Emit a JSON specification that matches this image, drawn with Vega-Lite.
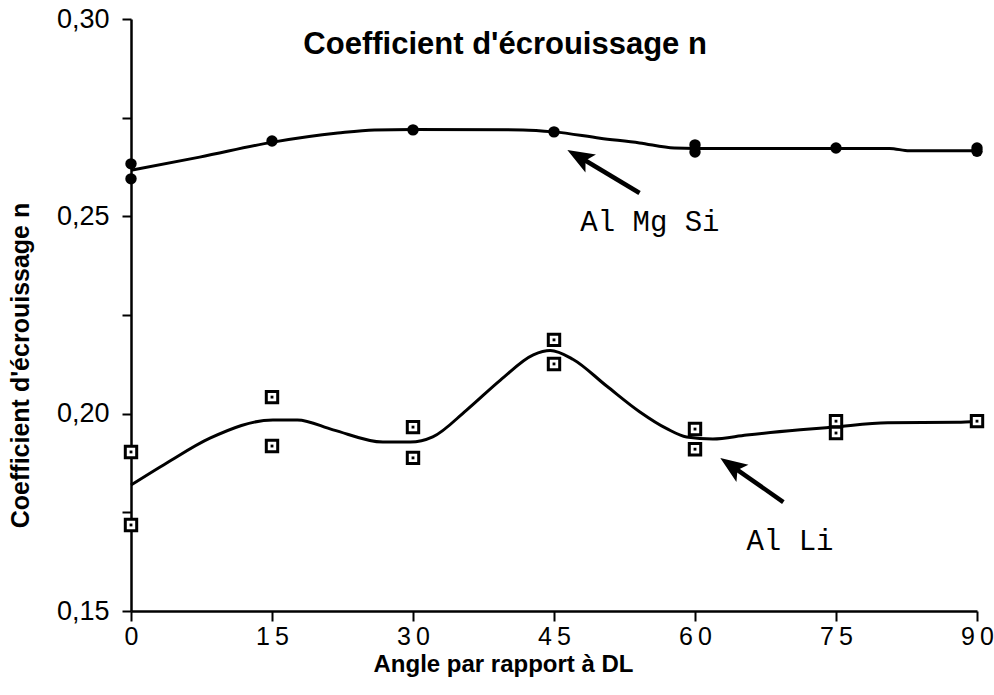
{
  "$schema": "https://vega.github.io/schema/vega-lite/v6.json",
  "width": 846,
  "height": 592,
  "autosize": "none",
  "padding": {"left": 131, "top": 19, "right": 17, "bottom": 84},
  "background": "white",
  "config": {"view": {"stroke": null}, "font": "Liberation Sans"},
  "datasets": {
    "curveMgSi": [
      {"angle": 0, "n": 0.2617}, {"angle": 7.3, "n": 0.2650}, {"angle": 15.1, "n": 0.2688},
      {"angle": 22, "n": 0.2711}, {"angle": 25.9, "n": 0.2719}, {"angle": 30, "n": 0.2720},
      {"angle": 41.7, "n": 0.2719}, {"angle": 45, "n": 0.2714}, {"angle": 49.9, "n": 0.2698},
      {"angle": 54.1, "n": 0.2686}, {"angle": 57.8, "n": 0.2673}, {"angle": 60, "n": 0.2672},
      {"angle": 75, "n": 0.2672}, {"angle": 80.7, "n": 0.2672}, {"angle": 82.8, "n": 0.2666},
      {"angle": 90, "n": 0.2666}
    ],
    "pointsMgSi": [
      {"angle": 0, "n": 0.2633}, {"angle": 0, "n": 0.2595}, {"angle": 15, "n": 0.2691},
      {"angle": 30, "n": 0.2719}, {"angle": 45, "n": 0.2714}, {"angle": 60, "n": 0.2681},
      {"angle": 60, "n": 0.2663}, {"angle": 75, "n": 0.2673}, {"angle": 90, "n": 0.2673},
      {"angle": 90, "n": 0.2665}
    ],
    "curveAlLi": [
      {"angle": 0, "n": 0.1819}, {"angle": 3.8, "n": 0.1875}, {"angle": 8.4, "n": 0.1938},
      {"angle": 15.1, "n": 0.1984}, {"angle": 17.7, "n": 0.1984}, {"angle": 21.5, "n": 0.1959},
      {"angle": 26.8, "n": 0.1928}, {"angle": 29.7, "n": 0.1928}, {"angle": 32.1, "n": 0.1941},
      {"angle": 35.7, "n": 0.2009}, {"angle": 39.3, "n": 0.2085}, {"angle": 42.8, "n": 0.2149},
      {"angle": 44.6, "n": 0.2160}, {"angle": 47.0, "n": 0.2138}, {"angle": 50.6, "n": 0.2070},
      {"angle": 54.1, "n": 0.2005}, {"angle": 57.0, "n": 0.1962}, {"angle": 59.1, "n": 0.1941},
      {"angle": 61.9, "n": 0.1936}, {"angle": 65.5, "n": 0.1946}, {"angle": 71.2, "n": 0.1959},
      {"angle": 74.7, "n": 0.1966}, {"angle": 80.5, "n": 0.1977}, {"angle": 87.9, "n": 0.1978},
      {"angle": 90, "n": 0.1981}
    ],
    "pointsAlLi": [
      {"angle": 0, "n": 0.1903}, {"angle": 0, "n": 0.1718}, {"angle": 15, "n": 0.2042},
      {"angle": 15, "n": 0.1918}, {"angle": 30, "n": 0.1966}, {"angle": 30, "n": 0.1888},
      {"angle": 45, "n": 0.2187}, {"angle": 45, "n": 0.2126}, {"angle": 60, "n": 0.1961},
      {"angle": 60, "n": 0.1910}, {"angle": 75, "n": 0.1981}, {"angle": 75, "n": 0.1951},
      {"angle": 90, "n": 0.1981}
    ],
    "arrows": [
      {"angle": 54.1, "n": 0.2559, "angle2": 47.8, "n2": 0.2649, "rot": 300},
      {"angle": 69.4, "n": 0.1776, "angle2": 64.0, "n2": 0.1866, "rot": 305}
    ],
    "labels": [
      {"angle": 55.2, "n": 0.2486, "text": "Al Mg Si"},
      {"angle": 70.1, "n": 0.1677, "text": "Al Li"}
    ],
    "title": [
      {"angle": 39.8, "n": 0.2934, "text": "Coefficient d'écrouissage n"}
    ]
  },
  "encoding": {
    "x": {
      "field": "angle", "type": "quantitative",
      "scale": {"domain": [0, 90], "nice": false, "zero": false},
      "axis": {
        "title": "Angle par rapport à DL",
        "values": [0, 15, 30, 45, 60, 75, 90],
        "labelExpr": "join(split(datum.label, ''), '\u2009')",
        "grid": false, "domainColor": "black", "domainWidth": 2.5,
        "tickColor": "black", "tickWidth": 2, "tickSize": 10,
        "labelFont": "Liberation Sans", "labelFontSize": 25, "labelColor": "black",
        "labelPadding": 3, "labelFlush": false,
        "titleFont": "Liberation Sans", "titleFontSize": 24, "titleFontWeight": "bold", "titleColor": "black",
        "titleX": 372, "titleY": 53, "titleBaseline": "middle", "titleAlign": "center"
      }
    },
    "y": {
      "field": "n", "type": "quantitative",
      "scale": {"domain": [0.15, 0.30], "nice": false, "zero": false},
      "axis": {
        "title": "Coefficient d'écrouissage n",
        "values": [0.15, 0.175, 0.2, 0.225, 0.25, 0.275, 0.3],
        "labelExpr": "(round(datum.value*1000) % 50 == 0) ? replace(format(datum.value, '.2f'), '.', ',') : ''",
        "grid": false, "domainColor": "black", "domainWidth": 2.5,
        "tickColor": "black", "tickWidth": 2, "tickSize": 9,
        "labelFont": "Liberation Sans", "labelFontSize": 27, "labelColor": "black",
        "labelPadding": 13, "labelFlush": false,
        "titleFont": "Liberation Sans", "titleFontSize": 25, "titleFontWeight": "bold", "titleColor": "black",
        "titleX": -111, "titleY": 346, "titleAngle": -90, "titleBaseline": "middle", "titleAlign": "center"
      }
    }
  },
  "layer": [
    {
      "data": {"name": "curveMgSi"},
      "mark": {"type": "line", "color": "black", "strokeWidth": 3, "interpolate": "monotone"}
    },
    {
      "data": {"name": "pointsMgSi"},
      "mark": {"type": "point", "shape": "circle", "filled": true, "color": "black", "size": 130, "opacity": 1}
    },
    {
      "data": {"name": "curveAlLi"},
      "mark": {"type": "line", "color": "black", "strokeWidth": 3, "interpolate": "monotone"}
    },
    {
      "data": {"name": "pointsAlLi"},
      "mark": {"type": "point", "shape": "square", "filled": true, "fill": "white", "stroke": "black", "strokeWidth": 3, "size": 130, "opacity": 1}
    },
    {
      "data": {"name": "pointsAlLi"},
      "mark": {"type": "point", "shape": "square", "filled": true, "color": "black", "size": 8, "opacity": 1}
    },
    {
      "data": {"name": "arrows"},
      "mark": {"type": "rule", "color": "black", "strokeWidth": 4.5},
      "encoding": {
        "x2": {"field": "angle2"},
        "y2": {"field": "n2"}
      }
    },
    {
      "data": {"name": "arrows"},
      "mark": {"type": "point", "shape": "M0,-1L0.7,0.8L0,0.4L-0.7,0.8Z", "filled": true, "color": "black", "size": 900, "opacity": 1},
      "encoding": {
        "x": {"field": "angle2", "type": "quantitative"},
        "y": {"field": "n2", "type": "quantitative"},
        "angle": {"field": "rot", "type": "quantitative", "scale": null}
      }
    },
    {
      "data": {"name": "labels"},
      "mark": {"type": "text", "font": "Liberation Mono", "fontSize": 29, "color": "black", "align": "center", "baseline": "middle"},
      "encoding": {"text": {"field": "text"}}
    },
    {
      "data": {"name": "title"},
      "mark": {"type": "text", "font": "Liberation Sans", "fontSize": 31, "fontWeight": "bold", "color": "black", "align": "center", "baseline": "middle"},
      "encoding": {"text": {"field": "text"}}
    }
  ]
}
